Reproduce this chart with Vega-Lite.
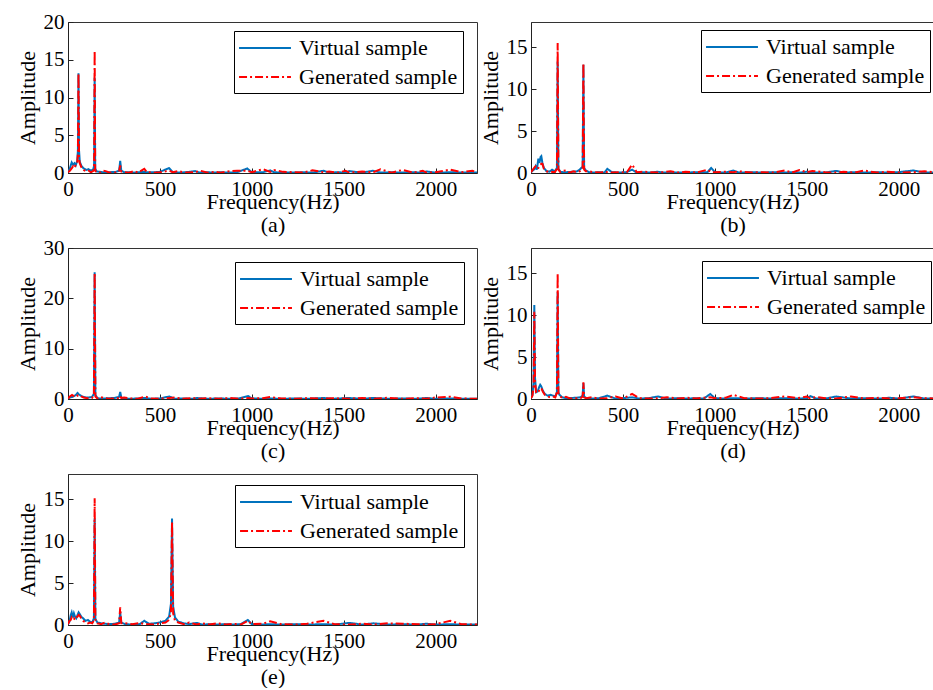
{
  "$schema": "https://vega.github.io/schema/vega-lite/v6.json",
  "background": "white",
  "padding": {"left": 15, "top": 10, "right": 0, "bottom": 0},
  "config": {
    "font": "Liberation Serif",
    "view": {"stroke": "#333333", "strokeWidth": 1},
    "axis": {
      "grid": false,
      "labelFontSize": 21,
      "titleFontSize": 22,
      "titleFontWeight": "normal",
      "labelColor": "black",
      "titleColor": "black",
      "domainColor": "#222222",
      "tickColor": "#222222",
      "tickSize": -5,
      "labelFlush": false,
      "labelOverlap": false,
      "labelBound": false,
      "format": "d"
    },
    "axisX": {"labelPadding": 10, "titleY": 35, "titleBaseline": "alphabetic", "titleLineHeight": 23},
    "axisY": {"labelPadding": 9, "titleX": -34, "titleBaseline": "alphabetic"},
    "legend": {
      "orient": "none",
      "strokeColor": "black",
      "fillColor": "white",
      "padding": 5,
      "labelFontSize": 22,
      "labelColor": "black",
      "symbolType": "M-2.36,0H2.36",
      "symbolSize": 484,
      "symbolStrokeWidth": 2,
      "symbolOffset": 14,
      "labelOffset": 22,
      "rowPadding": 6,
      "labelLimit": 400
    }
  },
  "datasets": {
    "a": [
      {"f":0,"V":0.1,"G":0.1},{"f":10,"V":0.6,"G":0.3},{"f":20,"V":1.4,"G":0.6},{"f":28,"V":1.1,"G":0.9},{"f":35,"V":1.3,"G":0.7},{"f":42,"V":1.0,"G":1.1},{"f":50,"V":1.6,"G":1.3},{"f":54,"V":3.0,"G":2.5},{"f":57,"V":13.2,"G":13.2},{"f":60,"V":3.0,"G":2.0},{"f":64,"V":1.5,"G":1.3},{"f":72,"V":1.0,"G":0.8},{"f":85,"V":0.6,"G":0.4},{"f":100,"V":0.4,"G":0.2},{"f":112,"V":0.5,"G":0.3},{"f":125,"V":0.3,"G":0.1},{"f":138,"V":0.5,"G":0.3},{"f":142,"V":1.0,"G":0.6},{"f":145,"V":12.6,"G":16.2},{"f":148,"V":0.6,"G":0.3},{"f":155,"V":0.2,"G":0.1},{"f":175,"V":0.15,"G":0.05},{"f":190,"V":0.1,"G":0.3},{"f":205,"V":0.1,"G":0.25},{"f":220,"V":0.1,"G":0.1},{"f":240,"V":0.12,"G":0.05},{"f":260,"V":0.15,"G":0.1},{"f":278,"V":0.3,"G":0.2},{"f":284,"V":1.6,"G":1.0},{"f":290,"V":0.3,"G":0.2},{"f":305,"V":0.1,"G":0.1},{"f":330,"V":0.1,"G":0.05},{"f":360,"V":0.05,"G":0.25},{"f":380,"V":0.1,"G":0.05},{"f":415,"V":0.15,"G":0.55},{"f":430,"V":0.1,"G":0.1},{"f":470,"V":0.1,"G":0.05},{"f":500,"V":0.15,"G":0.1},{"f":550,"V":0.65,"G":0.3},{"f":570,"V":0.1,"G":0.1},{"f":600,"V":0.05,"G":0.25},{"f":640,"V":0.1,"G":0.05},{"f":690,"V":0.25,"G":0.1},{"f":720,"V":0.05,"G":0.3},{"f":760,"V":0.1,"G":0.05},{"f":800,"V":0.05,"G":0.15},{"f":830,"V":0.1,"G":0.05},{"f":870,"V":0.05,"G":0.2},{"f":920,"V":0.1,"G":0.3},{"f":975,"V":0.6,"G":0.3},{"f":1000,"V":0.1,"G":0.1},{"f":1060,"V":0.1,"G":0.5},{"f":1100,"V":0.35,"G":0.15},{"f":1120,"V":0.1,"G":0.4},{"f":1170,"V":0.05,"G":0.15},{"f":1230,"V":0.05,"G":0.1},{"f":1280,"V":0.1,"G":0.05},{"f":1330,"V":0.05,"G":0.35},{"f":1390,"V":0.3,"G":0.1},{"f":1420,"V":0.05,"G":0.2},{"f":1470,"V":0.1,"G":0.05},{"f":1510,"V":0.05,"G":0.3},{"f":1530,"V":0.25,"G":0.05},{"f":1600,"V":0.05,"G":0.2},{"f":1660,"V":0.3,"G":0.1},{"f":1700,"V":0.05,"G":0.5},{"f":1760,"V":0.1,"G":0.05},{"f":1820,"V":0.05,"G":0.4},{"f":1880,"V":0.1,"G":0.05},{"f":1930,"V":0.05,"G":0.3},{"f":1950,"V":0.2,"G":0.05},{"f":2000,"V":0.05,"G":0.1},{"f":2080,"V":0.1,"G":0.45},{"f":2140,"V":0.05,"G":0.1},{"f":2200,"V":0.05,"G":0.3},{"f":2225,"V":0.05,"G":0.05}
    ],
    "b": [
      {"f":0,"V":0.1,"G":0.1},{"f":10,"V":0.3,"G":0.4},{"f":20,"V":0.5,"G":0.7},{"f":25,"V":0.8,"G":0.8},{"f":32,"V":0.4,"G":0.5},{"f":40,"V":1.7,"G":0.6},{"f":46,"V":1.2,"G":0.9},{"f":52,"V":1.9,"G":1.0},{"f":56,"V":2.0,"G":1.1},{"f":62,"V":1.2,"G":1.1},{"f":70,"V":0.6,"G":0.5},{"f":85,"V":0.2,"G":0.2},{"f":100,"V":0.15,"G":0.1},{"f":115,"V":0.4,"G":0.15},{"f":130,"V":0.2,"G":0.1},{"f":141,"V":0.6,"G":0.5},{"f":145,"V":13.3,"G":15.5},{"f":149,"V":0.5,"G":0.4},{"f":160,"V":0.15,"G":0.1},{"f":175,"V":0.1,"G":0.25},{"f":190,"V":0.1,"G":0.3},{"f":210,"V":0.12,"G":0.05},{"f":230,"V":0.15,"G":0.2},{"f":250,"V":0.2,"G":0.1},{"f":265,"V":0.4,"G":0.2},{"f":278,"V":0.7,"G":0.4},{"f":281,"V":0.8,"G":0.5},{"f":285,"V":12.9,"G":13.1},{"f":289,"V":0.6,"G":0.4},{"f":298,"V":0.3,"G":0.2},{"f":315,"V":0.1,"G":0.2},{"f":340,"V":0.05,"G":0.1},{"f":380,"V":0.1,"G":0.05},{"f":400,"V":0.05,"G":0.2},{"f":415,"V":0.5,"G":0.1},{"f":440,"V":0.1,"G":0.05},{"f":480,"V":0.05,"G":0.1},{"f":520,"V":0.1,"G":0.05},{"f":550,"V":0.4,"G":1.0},{"f":575,"V":0.05,"G":0.1},{"f":610,"V":0.1,"G":0.15},{"f":650,"V":0.05,"G":0.1},{"f":690,"V":0.15,"G":0.05},{"f":720,"V":0.05,"G":0.1},{"f":760,"V":0.1,"G":0.2},{"f":800,"V":0.05,"G":0.05},{"f":840,"V":0.05,"G":0.15},{"f":900,"V":0.1,"G":0.05},{"f":960,"V":0.1,"G":0.4},{"f":980,"V":0.6,"G":0.1},{"f":1000,"V":0.1,"G":0.1},{"f":1060,"V":0.05,"G":0.15},{"f":1100,"V":0.3,"G":0.1},{"f":1130,"V":0.05,"G":0.2},{"f":1200,"V":0.1,"G":0.05},{"f":1260,"V":0.05,"G":0.1},{"f":1320,"V":0.1,"G":0.05},{"f":1380,"V":0.05,"G":0.3},{"f":1420,"V":0.1,"G":0.05},{"f":1460,"V":0.05,"G":0.35},{"f":1500,"V":0.15,"G":0.1},{"f":1530,"V":0.05,"G":0.25},{"f":1600,"V":0.05,"G":0.1},{"f":1660,"V":0.25,"G":0.05},{"f":1700,"V":0.05,"G":0.15},{"f":1760,"V":0.1,"G":0.05},{"f":1810,"V":0.05,"G":0.3},{"f":1880,"V":0.1,"G":0.05},{"f":1940,"V":0.05,"G":0.15},{"f":2000,"V":0.1,"G":0.05},{"f":2080,"V":0.3,"G":0.1},{"f":2140,"V":0.05,"G":0.2},{"f":2225,"V":0.05,"G":0.05}
    ],
    "c": [
      {"f":0,"V":0.1,"G":0.1},{"f":10,"V":0.3,"G":0.5},{"f":22,"V":0.4,"G":0.8},{"f":35,"V":0.6,"G":0.5},{"f":45,"V":0.9,"G":0.4},{"f":52,"V":1.2,"G":0.7},{"f":60,"V":0.9,"G":0.8},{"f":72,"V":0.6,"G":0.5},{"f":85,"V":0.4,"G":0.3},{"f":100,"V":0.3,"G":0.2},{"f":115,"V":0.3,"G":0.1},{"f":130,"V":0.4,"G":0.2},{"f":141,"V":1.0,"G":0.8},{"f":145,"V":25.2,"G":25.0},{"f":149,"V":0.8,"G":0.5},{"f":160,"V":0.2,"G":0.1},{"f":175,"V":0.1,"G":0.4},{"f":195,"V":0.1,"G":0.2},{"f":220,"V":0.15,"G":0.05},{"f":250,"V":0.2,"G":0.1},{"f":278,"V":0.4,"G":0.2},{"f":284,"V":1.4,"G":0.6},{"f":290,"V":0.3,"G":0.2},{"f":305,"V":0.1,"G":0.3},{"f":340,"V":0.05,"G":0.1},{"f":380,"V":0.1,"G":0.05},{"f":420,"V":0.2,"G":0.5},{"f":450,"V":0.05,"G":0.1},{"f":500,"V":0.1,"G":0.05},{"f":550,"V":0.5,"G":0.2},{"f":580,"V":0.05,"G":0.3},{"f":620,"V":0.1,"G":0.05},{"f":680,"V":0.05,"G":0.2},{"f":700,"V":0.2,"G":0.05},{"f":760,"V":0.05,"G":0.15},{"f":820,"V":0.1,"G":0.05},{"f":880,"V":0.05,"G":0.2},{"f":930,"V":0.1,"G":0.05},{"f":980,"V":0.6,"G":0.2},{"f":1000,"V":0.1,"G":0.1},{"f":1060,"V":0.05,"G":0.15},{"f":1100,"V":0.1,"G":0.4},{"f":1160,"V":0.05,"G":0.1},{"f":1240,"V":0.1,"G":0.05},{"f":1300,"V":0.05,"G":0.15},{"f":1390,"V":0.2,"G":0.05},{"f":1440,"V":0.05,"G":0.15},{"f":1530,"V":0.2,"G":0.05},{"f":1600,"V":0.05,"G":0.2},{"f":1660,"V":0.2,"G":0.05},{"f":1740,"V":0.05,"G":0.25},{"f":1820,"V":0.1,"G":0.05},{"f":1900,"V":0.05,"G":0.15},{"f":1950,"V":0.2,"G":0.05},{"f":2000,"V":0.05,"G":0.3},{"f":2080,"V":0.1,"G":0.45},{"f":2140,"V":0.05,"G":0.1},{"f":2225,"V":0.05,"G":0.05}
    ],
    "d": [
      {"f":0,"V":0.1,"G":0.1},{"f":8,"V":0.5,"G":0.4},{"f":14,"V":2.0,"G":1.5},{"f":18,"V":11.2,"G":10.4},{"f":22,"V":2.5,"G":2.0},{"f":28,"V":0.8,"G":0.7},{"f":36,"V":0.9,"G":0.8},{"f":44,"V":1.4,"G":1.0},{"f":50,"V":1.7,"G":1.2},{"f":56,"V":1.5,"G":1.3},{"f":64,"V":1.0,"G":0.9},{"f":75,"V":0.6,"G":0.5},{"f":90,"V":0.4,"G":0.3},{"f":105,"V":0.5,"G":0.2},{"f":120,"V":0.4,"G":0.3},{"f":132,"V":0.3,"G":0.2},{"f":141,"V":0.8,"G":0.8},{"f":145,"V":12.7,"G":15.0},{"f":149,"V":0.8,"G":0.7},{"f":155,"V":0.5,"G":0.4},{"f":170,"V":0.2,"G":0.1},{"f":190,"V":0.1,"G":0.25},{"f":215,"V":0.12,"G":0.05},{"f":245,"V":0.15,"G":0.1},{"f":270,"V":0.2,"G":0.1},{"f":281,"V":0.4,"G":0.3},{"f":285,"V":1.9,"G":2.0},{"f":289,"V":0.3,"G":0.2},{"f":300,"V":0.1,"G":0.1},{"f":330,"V":0.05,"G":0.2},{"f":370,"V":0.1,"G":0.05},{"f":415,"V":0.4,"G":0.1},{"f":460,"V":0.05,"G":0.3},{"f":500,"V":0.1,"G":0.05},{"f":550,"V":0.2,"G":0.6},{"f":590,"V":0.05,"G":0.1},{"f":640,"V":0.1,"G":0.05},{"f":690,"V":0.3,"G":0.1},{"f":740,"V":0.05,"G":0.2},{"f":800,"V":0.1,"G":0.05},{"f":850,"V":0.05,"G":0.15},{"f":900,"V":0.1,"G":0.05},{"f":940,"V":0.05,"G":0.15},{"f":975,"V":0.6,"G":0.2},{"f":1000,"V":0.1,"G":0.1},{"f":1060,"V":0.05,"G":0.15},{"f":1100,"V":0.1,"G":0.5},{"f":1160,"V":0.05,"G":0.1},{"f":1240,"V":0.1,"G":0.05},{"f":1300,"V":0.05,"G":0.1},{"f":1380,"V":0.1,"G":0.3},{"f":1450,"V":0.05,"G":0.1},{"f":1500,"V":0.1,"G":0.3},{"f":1520,"V":0.35,"G":0.05},{"f":1550,"V":0.05,"G":0.25},{"f":1600,"V":0.05,"G":0.1},{"f":1660,"V":0.3,"G":0.05},{"f":1740,"V":0.05,"G":0.3},{"f":1820,"V":0.1,"G":0.05},{"f":1900,"V":0.05,"G":0.15},{"f":1950,"V":0.15,"G":0.05},{"f":2000,"V":0.05,"G":0.1},{"f":2080,"V":0.3,"G":0.2},{"f":2140,"V":0.05,"G":0.1},{"f":2225,"V":0.05,"G":0.05}
    ],
    "e": [
      {"f":0,"V":0.1,"G":0.1},{"f":8,"V":0.4,"G":0.5},{"f":15,"V":1.2,"G":0.6},{"f":20,"V":1.5,"G":0.9},{"f":26,"V":0.9,"G":0.7},{"f":32,"V":1.4,"G":0.8},{"f":38,"V":1.0,"G":0.6},{"f":45,"V":0.8,"G":0.9},{"f":52,"V":1.2,"G":1.0},{"f":58,"V":1.5,"G":1.2},{"f":64,"V":1.3,"G":1.1},{"f":72,"V":1.0,"G":0.8},{"f":82,"V":0.8,"G":0.5},{"f":95,"V":0.5,"G":0.3},{"f":108,"V":0.6,"G":0.2},{"f":120,"V":0.4,"G":0.3},{"f":132,"V":0.3,"G":0.2},{"f":141,"V":0.8,"G":0.6},{"f":145,"V":12.7,"G":15.1},{"f":149,"V":0.7,"G":0.5},{"f":160,"V":0.3,"G":0.2},{"f":180,"V":0.2,"G":0.1},{"f":200,"V":0.15,"G":0.3},{"f":225,"V":0.1,"G":0.1},{"f":255,"V":0.15,"G":0.05},{"f":278,"V":0.3,"G":0.2},{"f":284,"V":1.5,"G":2.1},{"f":290,"V":0.3,"G":0.2},{"f":310,"V":0.1,"G":0.2},{"f":350,"V":0.05,"G":0.1},{"f":390,"V":0.1,"G":0.25},{"f":415,"V":0.5,"G":0.1},{"f":440,"V":0.15,"G":0.1},{"f":470,"V":0.2,"G":0.05},{"f":500,"V":0.3,"G":0.2},{"f":530,"V":0.5,"G":0.3},{"f":550,"V":1.0,"G":0.6},{"f":560,"V":2.5,"G":1.5},{"f":566,"V":12.7,"G":12.3},{"f":572,"V":2.2,"G":1.4},{"f":582,"V":0.9,"G":0.5},{"f":600,"V":0.4,"G":0.3},{"f":630,"V":0.2,"G":0.1},{"f":660,"V":0.1,"G":0.3},{"f":700,"V":0.25,"G":0.05},{"f":730,"V":0.05,"G":0.2},{"f":770,"V":0.1,"G":0.05},{"f":810,"V":0.05,"G":0.2},{"f":860,"V":0.1,"G":0.05},{"f":900,"V":0.05,"G":0.15},{"f":940,"V":0.1,"G":0.05},{"f":978,"V":0.6,"G":0.5},{"f":1000,"V":0.1,"G":0.1},{"f":1060,"V":0.05,"G":0.15},{"f":1100,"V":0.1,"G":0.45},{"f":1160,"V":0.05,"G":0.1},{"f":1240,"V":0.1,"G":0.05},{"f":1300,"V":0.05,"G":0.15},{"f":1390,"V":0.1,"G":0.5},{"f":1450,"V":0.05,"G":0.1},{"f":1530,"V":0.25,"G":0.05},{"f":1600,"V":0.05,"G":0.15},{"f":1660,"V":0.2,"G":0.05},{"f":1740,"V":0.05,"G":0.2},{"f":1820,"V":0.1,"G":0.15},{"f":1900,"V":0.05,"G":0.1},{"f":1950,"V":0.15,"G":0.05},{"f":2000,"V":0.05,"G":0.1},{"f":2080,"V":0.1,"G":0.5},{"f":2140,"V":0.05,"G":0.1},{"f":2225,"V":0.05,"G":0.05}
    ]
  },
  "columns": 2,
  "spacing": {"row": 75, "column": 54},
  "bounds": "flush",
  "resolve": {"scale": {"color": "independent", "strokeDash": "independent"}, "legend": {"color": "independent", "strokeDash": "independent"}},
  "concat": [
    {
      "width": 409, "height": 151,
      "data": {"name": "a"},
      "transform": [{"fold": ["V", "G"], "as": ["s", "amp"]}],
      "mark": {"type": "line", "strokeWidth": 2, "clip": true},
      "encoding": {
        "x": {"field": "f", "type": "quantitative", "scale": {"domain": [0, 2225], "nice": false}, "axis": {"values": [0, 500, 1000, 1500, 2000], "title": ["Frequency(Hz)", "(a)"]}},
        "y": {"field": "amp", "type": "quantitative", "scale": {"domain": [0, 20], "nice": false}, "axis": {"values": [0, 5, 10, 15, 20], "title": "Amplitude"}},
        "color": {"field": "s", "type": "nominal", "scale": {"domain": ["V", "G"], "range": ["#0072BD", "#FF0000"]}, "legend": {"title": null, "legendX": 166, "legendY": 9, "labelExpr": "datum.label == 'V' ? 'Virtual sample' : 'Generated sample'"}},
        "strokeDash": {"field": "s", "type": "nominal", "scale": {"domain": ["V", "G"], "range": [[1, 0], [8, 3, 2, 3]]}, "legend": {"title": null, "legendX": 166, "legendY": 9, "labelExpr": "datum.label == 'V' ? 'Virtual sample' : 'Generated sample'"}}
      }
    },
    {
      "width": 403, "height": 151,
      "data": {"name": "b"},
      "transform": [{"fold": ["V", "G"], "as": ["s", "amp"]}],
      "mark": {"type": "line", "strokeWidth": 2, "clip": true},
      "encoding": {
        "x": {"field": "f", "type": "quantitative", "scale": {"domain": [0, 2192], "nice": false}, "axis": {"values": [0, 500, 1000, 1500, 2000], "title": ["Frequency(Hz)", "(b)"]}},
        "y": {"field": "amp", "type": "quantitative", "scale": {"domain": [0, 18], "nice": false}, "axis": {"values": [0, 5, 10, 15], "title": "Amplitude"}},
        "color": {"field": "s", "type": "nominal", "scale": {"domain": ["V", "G"], "range": ["#0072BD", "#FF0000"]}, "legend": {"title": null, "legendX": 170, "legendY": 8, "labelExpr": "datum.label == 'V' ? 'Virtual sample' : 'Generated sample'"}},
        "strokeDash": {"field": "s", "type": "nominal", "scale": {"domain": ["V", "G"], "range": [[1, 0], [8, 3, 2, 3]]}, "legend": {"title": null, "legendX": 170, "legendY": 8, "labelExpr": "datum.label == 'V' ? 'Virtual sample' : 'Generated sample'"}}
      }
    },
    {
      "width": 409, "height": 151,
      "data": {"name": "c"},
      "transform": [{"fold": ["V", "G"], "as": ["s", "amp"]}],
      "mark": {"type": "line", "strokeWidth": 2, "clip": true},
      "encoding": {
        "x": {"field": "f", "type": "quantitative", "scale": {"domain": [0, 2225], "nice": false}, "axis": {"values": [0, 500, 1000, 1500, 2000], "title": ["Frequency(Hz)", "(c)"]}},
        "y": {"field": "amp", "type": "quantitative", "scale": {"domain": [0, 30], "nice": false}, "axis": {"values": [0, 10, 20, 30], "title": "Amplitude"}},
        "color": {"field": "s", "type": "nominal", "scale": {"domain": ["V", "G"], "range": ["#0072BD", "#FF0000"]}, "legend": {"title": null, "legendX": 167, "legendY": 14, "labelExpr": "datum.label == 'V' ? 'Virtual sample' : 'Generated sample'"}},
        "strokeDash": {"field": "s", "type": "nominal", "scale": {"domain": ["V", "G"], "range": [[1, 0], [8, 3, 2, 3]]}, "legend": {"title": null, "legendX": 167, "legendY": 14, "labelExpr": "datum.label == 'V' ? 'Virtual sample' : 'Generated sample'"}}
      }
    },
    {
      "width": 403, "height": 151,
      "data": {"name": "d"},
      "transform": [{"fold": ["V", "G"], "as": ["s", "amp"]}],
      "mark": {"type": "line", "strokeWidth": 2, "clip": true},
      "encoding": {
        "x": {"field": "f", "type": "quantitative", "scale": {"domain": [0, 2192], "nice": false}, "axis": {"values": [0, 500, 1000, 1500, 2000], "title": ["Frequency(Hz)", "(d)"]}},
        "y": {"field": "amp", "type": "quantitative", "scale": {"domain": [0, 18], "nice": false}, "axis": {"values": [0, 5, 10, 15], "title": "Amplitude"}},
        "color": {"field": "s", "type": "nominal", "scale": {"domain": ["V", "G"], "range": ["#0072BD", "#FF0000"]}, "legend": {"title": null, "legendX": 171, "legendY": 13, "labelExpr": "datum.label == 'V' ? 'Virtual sample' : 'Generated sample'"}},
        "strokeDash": {"field": "s", "type": "nominal", "scale": {"domain": ["V", "G"], "range": [[1, 0], [8, 3, 2, 3]]}, "legend": {"title": null, "legendX": 171, "legendY": 13, "labelExpr": "datum.label == 'V' ? 'Virtual sample' : 'Generated sample'"}}
      }
    },
    {
      "width": 409, "height": 151,
      "data": {"name": "e"},
      "transform": [{"fold": ["V", "G"], "as": ["s", "amp"]}],
      "mark": {"type": "line", "strokeWidth": 2, "clip": true},
      "encoding": {
        "x": {"field": "f", "type": "quantitative", "scale": {"domain": [0, 2225], "nice": false}, "axis": {"values": [0, 500, 1000, 1500, 2000], "title": ["Frequency(Hz)", "(e)"]}},
        "y": {"field": "amp", "type": "quantitative", "scale": {"domain": [0, 18], "nice": false}, "axis": {"values": [0, 5, 10, 15], "title": "Amplitude"}},
        "color": {"field": "s", "type": "nominal", "scale": {"domain": ["V", "G"], "range": ["#0072BD", "#FF0000"]}, "legend": {"title": null, "legendX": 167, "legendY": 11, "labelExpr": "datum.label == 'V' ? 'Virtual sample' : 'Generated sample'"}},
        "strokeDash": {"field": "s", "type": "nominal", "scale": {"domain": ["V", "G"], "range": [[1, 0], [8, 3, 2, 3]]}, "legend": {"title": null, "legendX": 167, "legendY": 11, "labelExpr": "datum.label == 'V' ? 'Virtual sample' : 'Generated sample'"}}
      }
    }
  ]
}
